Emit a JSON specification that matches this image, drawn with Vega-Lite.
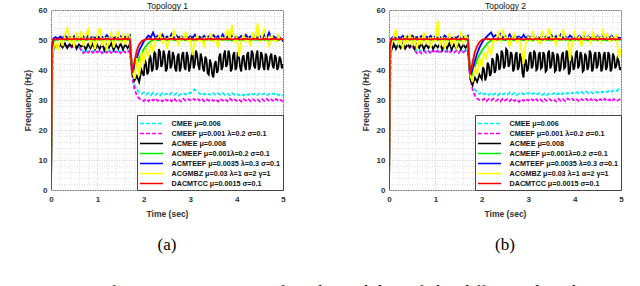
{
"$schema": "https://vega.github.io/schema/vega-lite/v6.json",
"padding": {"left": 0, "top": 0, "right": 0, "bottom": 0},
"background": "white",
"config": {
  "view": {"stroke": "#7a7a7a", "strokeWidth": 1},
  "font": "Liberation Sans",
  "axis": {"labelFont": "Liberation Sans", "labelFontSize": 8, "labelFontWeight": "bold", "labelColor": "#333", "titleFont": "Liberation Sans", "titleFontSize": 8.5, "titleFontWeight": "bold", "titleColor": "#333", "domain": false, "ticks": false},
  "legend": {"orient": "bottom-right", "offset": 0, "fillColor": "white", "strokeColor": "#444", "padding": 2.5, "symbolType": "M-2.3,0H2.3", "symbolSize": 100, "symbolStrokeWidth": 1.5, "symbolOffset": 6, "labelOffset": 14, "labelFont": "Liberation Sans", "labelFontSize": 7.2, "labelFontWeight": "bold", "labelColor": "#111", "rowPadding": 0, "labelLimit": 300}
},
"datasets": {"d": [
{"p":1,"t":0,"a":0,"b":0,"c":0,"d":0,"e":0,"f":0,"g":0},
{"p":1,"t":0.02,"a":30,"b":44,"c":45,"d":46,"e":47,"f":44,"g":48},
{"p":1,"t":0.05,"a":46.5,"b":47.5,"c":47,"d":49.5,"e":50.5,"f":47,"g":50.2},
{"p":1,"t":0.1,"a":47.8,"b":48,"c":48.5,"d":50,"e":51,"f":49,"g":50.3},
{"p":1,"t":0.15,"a":48,"b":47.6,"c":47.2,"d":50.2,"e":50.4,"f":46.5,"g":50.2},
{"p":1,"t":0.2,"a":47.5,"b":48.2,"c":48.8,"d":49.8,"e":51.2,"f":50.5,"g":50.4},
{"p":1,"t":0.25,"a":48.1,"b":47.8,"c":47.5,"d":50.1,"e":50.6,"f":48,"g":50.3},
{"p":1,"t":0.3,"a":47.7,"b":48.3,"c":48.9,"d":50.3,"e":51.5,"f":52,"g":50.2},
{"p":1,"t":0.35,"a":48.2,"b":47.7,"c":47.3,"d":49.9,"e":50.8,"f":54,"g":50.4},
{"p":1,"t":0.4,"a":47.6,"b":48.1,"c":48.6,"d":50.2,"e":51.1,"f":49,"g":50.3},
{"p":1,"t":0.45,"a":48,"b":47.5,"c":47.8,"d":50,"e":50.5,"f":51.5,"g":50.2},
{"p":1,"t":0.5,"a":47.8,"b":48.2,"c":48.9,"d":50.1,"e":51.3,"f":47.5,"g":50.3},
{"p":1,"t":0.55,"a":48.1,"b":47.9,"c":47.1,"d":49.8,"e":50.7,"f":52.5,"g":50.4},
{"p":1,"t":0.6,"a":47.5,"b":48,"c":48.5,"d":50.2,"e":51,"f":49.5,"g":50.2},
{"p":1,"t":0.65,"a":46.8,"b":46.5,"c":47.8,"d":50,"e":50.6,"f":53,"g":50.3},
{"p":1,"t":0.7,"a":46.2,"b":45.6,"c":48.4,"d":50.1,"e":51.2,"f":48,"g":50.3},
{"p":1,"t":0.75,"a":46.5,"b":46.3,"c":46.8,"d":49.9,"e":50.5,"f":51.5,"g":50.2},
{"p":1,"t":0.8,"a":46,"b":45.8,"c":48.6,"d":50.2,"e":51.4,"f":53.5,"g":50.4},
{"p":1,"t":0.85,"a":46.6,"b":46.6,"c":47.2,"d":50,"e":50.8,"f":48.5,"g":50.3},
{"p":1,"t":0.9,"a":46.1,"b":45.7,"c":48.8,"d":50.1,"e":51,"f":50.5,"g":50.2},
{"p":1,"t":0.95,"a":46.4,"b":46.4,"c":46.9,"d":49.8,"e":50.6,"f":47,"g":50.3},
{"p":1,"t":1.0,"a":46,"b":45.9,"c":48.3,"d":50.2,"e":51.3,"f":52,"g":50.4},
{"p":1,"t":1.05,"a":46.5,"b":46.5,"c":47,"d":50,"e":50.7,"f":54,"g":50.3},
{"p":1,"t":1.1,"a":45.9,"b":45.6,"c":48.7,"d":50.1,"e":51.1,"f":48,"g":50.2},
{"p":1,"t":1.15,"a":46.3,"b":46.2,"c":46.6,"d":49.9,"e":50.5,"f":51,"g":50.3},
{"p":1,"t":1.2,"a":46,"b":45.8,"c":48.5,"d":50.2,"e":51.6,"f":46.5,"g":50.4},
{"p":1,"t":1.25,"a":46.6,"b":46.5,"c":47.4,"d":50,"e":50.8,"f":50.5,"g":50.3},
{"p":1,"t":1.3,"a":46.2,"b":45.7,"c":48.9,"d":50.1,"e":51.2,"f":52.5,"g":50.2},
{"p":1,"t":1.35,"a":46.5,"b":46.4,"c":46.7,"d":49.9,"e":50.6,"f":47.5,"g":50.3},
{"p":1,"t":1.4,"a":45.9,"b":45.9,"c":48.4,"d":50.2,"e":51,"f":50,"g":50.4},
{"p":1,"t":1.45,"a":46.4,"b":46.3,"c":47.1,"d":50,"e":50.7,"f":53,"g":50.3},
{"p":1,"t":1.5,"a":46,"b":45.6,"c":48.8,"d":50.1,"e":51.3,"f":49,"g":50.2},
{"p":1,"t":1.55,"a":46.5,"b":46.5,"c":46.9,"d":49.8,"e":50.5,"f":51.5,"g":50.3},
{"p":1,"t":1.6,"a":46.1,"b":45.8,"c":48.5,"d":50.2,"e":51.1,"f":48.5,"g":50.4},
{"p":1,"t":1.65,"a":46.6,"b":46.4,"c":47.3,"d":50,"e":50.8,"f":52,"g":50.3},
{"p":1,"t":1.7,"a":46.2,"b":45.9,"c":48.6,"d":50.1,"e":51.5,"f":51,"g":50.3},
{"p":1,"t":1.75,"a":39,"b":38,"c":39,"d":39,"e":39.5,"f":40,"g":39},
{"p":1,"t":1.8,"a":35,"b":33.5,"c":36.5,"d":40,"e":41,"f":37,"g":43},
{"p":1,"t":1.85,"a":33.5,"b":31.5,"c":38,"d":42,"e":44,"f":44,"g":46.5},
{"p":1,"t":1.9,"a":32.5,"b":30.5,"c":36,"d":44,"e":46.5,"f":38,"g":48.5},
{"p":1,"t":1.95,"a":32,"b":30,"c":40,"d":45.5,"e":48,"f":46,"g":49.5},
{"p":1,"t":2.0,"a":32.5,"b":29.7,"c":38,"d":47,"e":49.5,"f":42,"g":50},
{"p":1,"t":2.05,"a":31.8,"b":30.3,"c":42,"d":48,"e":50.5,"f":47.5,"g":50.2},
{"p":1,"t":2.1,"a":32.3,"b":29.6,"c":39.5,"d":49,"e":51.5,"f":44,"g":50.4},
{"p":1,"t":2.15,"a":31.6,"b":30.4,"c":44,"d":49.6,"e":50.8,"f":49,"g":50.3},
{"p":1,"t":2.2,"a":32.4,"b":29.8,"c":40.5,"d":50,"e":52.5,"f":46,"g":50.2},
{"p":1,"t":2.25,"a":31.7,"b":30.5,"c":45.5,"d":50.2,"e":50.6,"f":50.5,"g":50.4},
{"p":1,"t":2.3,"a":32.2,"b":29.7,"c":41,"d":49.8,"e":51.4,"f":50.5,"g":50.3},
{"p":1,"t":2.35,"a":31.5,"b":30.2,"c":46,"d":50.3,"e":50.2,"f":52,"g":50.2},
{"p":1,"t":2.4,"a":32.3,"b":29.6,"c":42,"d":50,"e":51.8,"f":49,"g":50.4},
{"p":1,"t":2.45,"a":31.8,"b":30.4,"c":45,"d":50.1,"e":50.5,"f":50.5,"g":50.3},
{"p":1,"t":2.5,"a":32.1,"b":29.8,"c":40.5,"d":49.9,"e":51.2,"f":47,"g":50.2},
{"p":1,"t":2.55,"a":31.6,"b":30.3,"c":46.5,"d":50.2,"e":50.7,"f":51,"g":50.3},
{"p":1,"t":2.6,"a":32.4,"b":29.6,"c":41.5,"d":50,"e":52,"f":50,"g":50.4},
{"p":1,"t":2.65,"a":31.7,"b":30.5,"c":44.5,"d":50.1,"e":50.4,"f":53,"g":50.3},
{"p":1,"t":2.7,"a":32.2,"b":29.7,"c":39.5,"d":49.8,"e":51.5,"f":50.5,"g":50.2},
{"p":1,"t":2.75,"a":31.5,"b":30.2,"c":45.5,"d":50.3,"e":50.8,"f":48.5,"g":50.3},
{"p":1,"t":2.8,"a":32,"b":29.5,"c":41,"d":50,"e":51.2,"f":51,"g":50.4},
{"p":1,"t":2.85,"a":32.3,"b":30.4,"c":46,"d":50.1,"e":50.6,"f":50,"g":50.3},
{"p":1,"t":2.9,"a":31.8,"b":29.8,"c":40,"d":49.9,"e":51.6,"f":52.5,"g":50.2},
{"p":1,"t":2.95,"a":32.5,"b":30.3,"c":44.5,"d":50.2,"e":50.5,"f":49.5,"g":50.3},
{"p":1,"t":3.0,"a":32.2,"b":29.9,"c":41,"d":50,"e":51.3,"f":50.5,"g":50.4},
{"p":1,"t":3.05,"a":33,"b":30.5,"c":46,"d":50.1,"e":50.7,"f":45,"g":50.3},
{"p":1,"t":3.1,"a":33.5,"b":30,"c":42,"d":49.8,"e":51.8,"f":50,"g":50.2},
{"p":1,"t":3.15,"a":32.8,"b":30.6,"c":45,"d":50.2,"e":50.4,"f":51.5,"g":50.3},
{"p":1,"t":3.2,"a":32.2,"b":29.8,"c":40,"d":50,"e":51.1,"f":49.5,"g":50.4},
{"p":1,"t":3.25,"a":31.6,"b":30.4,"c":44,"d":50.1,"e":50.6,"f":50.5,"g":50.3},
{"p":1,"t":3.3,"a":32.1,"b":29.6,"c":39.5,"d":49.9,"e":51.4,"f":48,"g":50.2},
{"p":1,"t":3.35,"a":31.5,"b":30.2,"c":43.5,"d":50.2,"e":50.8,"f":51,"g":50.3},
{"p":1,"t":3.4,"a":32,"b":29.8,"c":38.5,"d":50,"e":51.2,"f":50,"g":50.4},
{"p":1,"t":3.45,"a":31.7,"b":30.3,"c":42,"d":50.1,"e":50.5,"f":52,"g":50.3},
{"p":1,"t":3.5,"a":32.3,"b":29.7,"c":37.5,"d":49.8,"e":51.6,"f":49.5,"g":50.2},
{"p":1,"t":3.55,"a":31.6,"b":30.2,"c":43,"d":50.2,"e":50.7,"f":50.5,"g":50.3},
{"p":1,"t":3.6,"a":32.2,"b":29.5,"c":40,"d":50,"e":51.3,"f":47.5,"g":50.4},
{"p":1,"t":3.65,"a":31.8,"b":30.4,"c":45.5,"d":50.1,"e":50.4,"f":51,"g":50.3},
{"p":1,"t":3.7,"a":32.4,"b":29.8,"c":41,"d":49.9,"e":51.9,"f":50,"g":50.2},
{"p":1,"t":3.75,"a":31.7,"b":30.3,"c":46.5,"d":50.2,"e":50.6,"f":50.5,"g":50.3},
{"p":1,"t":3.8,"a":32.1,"b":29.6,"c":42,"d":50,"e":51.2,"f":53.5,"g":50.4},
{"p":1,"t":3.85,"a":31.6,"b":30.5,"c":45,"d":50.1,"e":50.5,"f":50,"g":50.3},
{"p":1,"t":3.9,"a":32.3,"b":29.9,"c":40.5,"d":49.8,"e":51.5,"f":55,"g":50.2},
{"p":1,"t":3.95,"a":31.8,"b":30.4,"c":46,"d":50.2,"e":50.8,"f":49.5,"g":50.3},
{"p":1,"t":4.0,"a":32.2,"b":29.7,"c":41,"d":50,"e":51.1,"f":51,"g":50.4},
{"p":1,"t":4.05,"a":31.6,"b":30.2,"c":44.5,"d":50.1,"e":50.6,"f":44.5,"g":50.3},
{"p":1,"t":4.1,"a":32,"b":29.5,"c":39.5,"d":49.9,"e":51.4,"f":50,"g":50.2},
{"p":1,"t":4.15,"a":31.5,"b":30.3,"c":45,"d":50.2,"e":50.4,"f":51.5,"g":50.3},
{"p":1,"t":4.2,"a":32.2,"b":29.8,"c":40,"d":50,"e":51.7,"f":49.5,"g":50.4},
{"p":1,"t":4.25,"a":31.7,"b":30.4,"c":46,"d":50.1,"e":50.7,"f":50.5,"g":50.3},
{"p":1,"t":4.3,"a":32.3,"b":29.6,"c":41.5,"d":49.8,"e":51.2,"f":48,"g":50.2},
{"p":1,"t":4.35,"a":31.8,"b":30.3,"c":45.5,"d":50.2,"e":50.5,"f":52.5,"g":50.3},
{"p":1,"t":4.4,"a":32.1,"b":29.7,"c":40.5,"d":50,"e":51.5,"f":50,"g":50.4},
{"p":1,"t":4.45,"a":31.6,"b":30.2,"c":46.5,"d":50.1,"e":50.6,"f":55.5,"g":50.3},
{"p":1,"t":4.5,"a":32.4,"b":29.5,"c":41,"d":49.9,"e":51.3,"f":49.5,"g":50.2},
{"p":1,"t":4.55,"a":31.9,"b":30.3,"c":45,"d":50.2,"e":50.4,"f":51,"g":50.3},
{"p":1,"t":4.6,"a":32.2,"b":29.7,"c":40,"d":50,"e":51.8,"f":54,"g":50.4},
{"p":1,"t":4.65,"a":31.6,"b":30.4,"c":44.5,"d":50.1,"e":50.6,"f":50,"g":50.3},
{"p":1,"t":4.7,"a":32,"b":29.6,"c":41.5,"d":49.8,"e":52.5,"f":48,"g":50.2},
{"p":1,"t":4.75,"a":31.7,"b":30.2,"c":45.5,"d":50.2,"e":50.7,"f":51.5,"g":50.3},
{"p":1,"t":4.8,"a":32.2,"b":29.5,"c":40.5,"d":50,"e":51.2,"f":50,"g":50.4},
{"p":1,"t":4.85,"a":31.5,"b":30.3,"c":44,"d":50.1,"e":50.5,"f":49.5,"g":50.3},
{"p":1,"t":4.9,"a":31.9,"b":29.6,"c":41,"d":49.9,"e":51.4,"f":51.5,"g":50.2},
{"p":1,"t":4.95,"a":31.4,"b":30,"c":43.5,"d":50.2,"e":50.6,"f":50,"g":50.3},
{"p":1,"t":5.0,"a":31.6,"b":29.5,"c":42,"d":50,"e":49.5,"f":50.5,"g":50.4},
{"p":1,"t":2.025,"c":43.5},{"p":1,"t":2.075,"c":38.5},{"p":1,"t":2.125,"c":45},{"p":1,"t":2.175,"c":39.5},{"p":1,"t":2.225,"c":46},{"p":1,"t":2.275,"c":40},
{"p":1,"t":2.325,"c":47},{"p":1,"t":2.375,"c":41},{"p":1,"t":2.425,"c":46.5},{"p":1,"t":2.475,"c":39.5},{"p":1,"t":2.525,"c":45},{"p":1,"t":2.575,"c":40.5},
{"p":1,"t":2.625,"c":46},{"p":1,"t":2.675,"c":40.5},{"p":1,"t":2.725,"c":44.5},{"p":1,"t":2.775,"c":39.5},{"p":1,"t":2.825,"c":45},{"p":1,"t":2.875,"c":41},
{"p":1,"t":2.925,"c":46},{"p":1,"t":2.975,"c":39.5},{"p":1,"t":3.025,"c":44.5},{"p":1,"t":3.075,"c":40.5},{"p":1,"t":3.125,"c":46.5},{"p":1,"t":3.175,"c":41.5},
{"p":1,"t":3.225,"c":45.5},{"p":1,"t":3.275,"c":40.5},{"p":1,"t":3.325,"c":44.5},{"p":1,"t":3.375,"c":39},{"p":1,"t":3.425,"c":43.5},{"p":1,"t":3.475,"c":38.5},
{"p":1,"t":3.525,"c":42},{"p":1,"t":3.575,"c":39},{"p":1,"t":3.625,"c":44.5},{"p":1,"t":3.675,"c":40},{"p":1,"t":3.725,"c":45},{"p":1,"t":3.775,"c":41},
{"p":1,"t":3.825,"c":46.5},{"p":1,"t":3.875,"c":39.5},{"p":1,"t":3.925,"c":45},{"p":1,"t":3.975,"c":40},{"p":1,"t":4.025,"c":46},{"p":1,"t":4.075,"c":41},
{"p":1,"t":4.125,"c":44},{"p":1,"t":4.175,"c":41.5},{"p":1,"t":4.225,"c":45},{"p":1,"t":4.275,"c":40},{"p":1,"t":4.325,"c":46.5},{"p":1,"t":4.375,"c":41.5},
{"p":1,"t":4.425,"c":45},{"p":1,"t":4.475,"c":40},{"p":1,"t":4.525,"c":46},{"p":1,"t":4.575,"c":41},{"p":1,"t":4.625,"c":45.5},{"p":1,"t":4.675,"c":40},
{"p":1,"t":4.725,"c":44.5},{"p":1,"t":4.775,"c":41.5},{"p":1,"t":4.825,"c":45},{"p":1,"t":4.875,"c":40},{"p":1,"t":4.925,"c":44.5},{"p":1,"t":4.975,"c":40.5},
{"p":2,"t":0,"a":0,"b":0,"c":0,"d":0,"e":0,"f":0,"g":0},
{"p":2,"t":0.02,"a":30,"b":44,"c":45,"d":46,"e":47,"f":44,"g":48},
{"p":2,"t":0.05,"a":47,"b":47.5,"c":46.5,"d":49.5,"e":50.5,"f":48,"g":50.2},
{"p":2,"t":0.1,"a":47.5,"b":47.8,"c":48.8,"d":50,"e":51.2,"f":51,"g":50.3},
{"p":2,"t":0.15,"a":48.2,"b":47.5,"c":47,"d":50.2,"e":50.5,"f":53.5,"g":50.2},
{"p":2,"t":0.2,"a":47.6,"b":48.3,"c":48.6,"d":49.8,"e":51,"f":48.5,"g":50.4},
{"p":2,"t":0.25,"a":48,"b":47.6,"c":47.3,"d":50.1,"e":50.7,"f":50,"g":50.3},
{"p":2,"t":0.3,"a":47.5,"b":48.1,"c":48.9,"d":50.3,"e":51.4,"f":47,"g":50.2},
{"p":2,"t":0.35,"a":48.1,"b":47.7,"c":47.1,"d":49.9,"e":50.6,"f":51.5,"g":50.4},
{"p":2,"t":0.4,"a":47.7,"b":48.2,"c":48.5,"d":50.2,"e":51.2,"f":49,"g":50.3},
{"p":2,"t":0.45,"a":48,"b":47.4,"c":47.6,"d":50,"e":50.5,"f":52,"g":50.2},
{"p":2,"t":0.5,"a":47.6,"b":48,"c":48.8,"d":50.1,"e":51.5,"f":48,"g":50.3},
{"p":2,"t":0.55,"a":47,"b":46.8,"c":47,"d":49.8,"e":50.7,"f":50.5,"g":50.4},
{"p":2,"t":0.6,"a":46.4,"b":45.6,"c":48.6,"d":50.2,"e":51,"f":47,"g":50.2},
{"p":2,"t":0.65,"a":46.8,"b":46.2,"c":47.4,"d":50,"e":50.6,"f":51,"g":50.3},
{"p":2,"t":0.7,"a":46.2,"b":45.5,"c":48.9,"d":50.1,"e":51.3,"f":48.5,"g":50.3},
{"p":2,"t":0.75,"a":46.6,"b":46.4,"c":46.9,"d":49.9,"e":50.5,"f":52.5,"g":50.2},
{"p":2,"t":0.8,"a":46.1,"b":45.7,"c":48.5,"d":50.2,"e":51.1,"f":49,"g":50.4},
{"p":2,"t":0.85,"a":46.5,"b":46.3,"c":47.3,"d":50,"e":50.8,"f":50.5,"g":50.3},
{"p":2,"t":0.9,"a":46,"b":45.5,"c":48.7,"d":50.1,"e":51.4,"f":47.5,"g":50.2},
{"p":2,"t":0.95,"a":46.4,"b":46.5,"c":47,"d":49.8,"e":50.6,"f":51,"g":50.3},
{"p":2,"t":1.0,"a":46.1,"b":45.8,"c":48.4,"d":50.2,"e":51.2,"f":49.5,"g":50.4},
{"p":2,"t":1.05,"a":46.6,"b":46.4,"c":47.5,"d":50,"e":50.7,"f":56.5,"g":50.3},
{"p":2,"t":1.1,"a":46,"b":45.6,"c":48.8,"d":50.1,"e":51,"f":48,"g":50.2},
{"p":2,"t":1.15,"a":46.5,"b":46.5,"c":46.8,"d":49.9,"e":50.5,"f":51,"g":50.3},
{"p":2,"t":1.2,"a":46.2,"b":45.9,"c":48.3,"d":50.2,"e":51.5,"f":47,"g":50.4},
{"p":2,"t":1.25,"a":46.7,"b":46.3,"c":47.2,"d":50,"e":50.8,"f":50.5,"g":50.3},
{"p":2,"t":1.3,"a":46.1,"b":45.6,"c":48.9,"d":50.1,"e":51.2,"f":52,"g":50.2},
{"p":2,"t":1.35,"a":46.6,"b":46.5,"c":46.8,"d":49.9,"e":50.6,"f":48.5,"g":50.3},
{"p":2,"t":1.4,"a":46,"b":45.8,"c":48.5,"d":50.2,"e":51,"f":51,"g":50.4},
{"p":2,"t":1.45,"a":46.5,"b":46.4,"c":47.2,"d":50,"e":50.7,"f":47.5,"g":50.3},
{"p":2,"t":1.5,"a":46.1,"b":45.7,"c":48.7,"d":50.1,"e":51.3,"f":50,"g":50.2},
{"p":2,"t":1.55,"a":46.6,"b":46.6,"c":47,"d":49.8,"e":50.5,"f":52.5,"g":50.3},
{"p":2,"t":1.6,"a":46.2,"b":45.9,"c":48.4,"d":50.2,"e":51.1,"f":49,"g":50.4},
{"p":2,"t":1.65,"a":46.7,"b":46.5,"c":47.4,"d":50,"e":50.8,"f":51.5,"g":50.3},
{"p":2,"t":1.7,"a":46.3,"b":46,"c":48.6,"d":50.1,"e":51.4,"f":50.5,"g":50.3},
{"p":2,"t":1.75,"a":38.5,"b":37.5,"c":37,"d":37.5,"e":38,"f":38.5,"g":38.5},
{"p":2,"t":1.8,"a":35,"b":33.5,"c":35,"d":38.5,"e":40,"f":36,"g":42.5},
{"p":2,"t":1.85,"a":33.5,"b":31.5,"c":37.5,"d":41,"e":43,"f":41,"g":46},
{"p":2,"t":1.9,"a":32.5,"b":30.5,"c":36,"d":43.5,"e":45.5,"f":38.5,"g":48},
{"p":2,"t":1.95,"a":32,"b":30,"c":38.5,"d":45,"e":47.5,"f":44,"g":49.3},
{"p":2,"t":2.0,"a":32.6,"b":29.8,"c":37,"d":46.5,"e":49,"f":41,"g":50},
{"p":2,"t":2.05,"a":31.9,"b":30.4,"c":40,"d":47.5,"e":50.2,"f":46,"g":50.2},
{"p":2,"t":2.1,"a":32.4,"b":29.6,"c":38,"d":48.5,"e":51,"f":43.5,"g":50.4},
{"p":2,"t":2.15,"a":31.7,"b":30.3,"c":41.5,"d":49.3,"e":51.8,"f":48,"g":50.3},
{"p":2,"t":2.2,"a":32.3,"b":29.8,"c":39,"d":49.8,"e":52.5,"f":45,"g":50.2},
{"p":2,"t":2.25,"a":31.8,"b":30.5,"c":43,"d":50.1,"e":51,"f":50,"g":50.4},
{"p":2,"t":2.3,"a":32.2,"b":29.7,"c":40,"d":49.8,"e":51.6,"f":49.5,"g":50.3},
{"p":2,"t":2.35,"a":31.6,"b":30.2,"c":44.5,"d":50.3,"e":50.5,"f":52.5,"g":50.2},
{"p":2,"t":2.4,"a":32.4,"b":29.5,"c":41,"d":50,"e":52,"f":50,"g":50.4},
{"p":2,"t":2.45,"a":31.9,"b":30.4,"c":45.5,"d":50.1,"e":50.7,"f":53.5,"g":50.3},
{"p":2,"t":2.5,"a":32.2,"b":29.8,"c":41.5,"d":49.9,"e":51.3,"f":50.5,"g":50.2},
{"p":2,"t":2.55,"a":31.7,"b":30.3,"c":46.5,"d":50.2,"e":50.5,"f":51,"g":50.3},
{"p":2,"t":2.6,"a":32.5,"b":29.6,"c":42,"d":50,"e":51.9,"f":48,"g":50.4},
{"p":2,"t":2.65,"a":31.8,"b":30.5,"c":45,"d":50.1,"e":50.6,"f":50.5,"g":50.3},
{"p":2,"t":2.7,"a":32.3,"b":29.7,"c":40.5,"d":49.8,"e":51.4,"f":52,"g":50.2},
{"p":2,"t":2.75,"a":31.6,"b":30.2,"c":46,"d":50.3,"e":50.8,"f":49.5,"g":50.3},
{"p":2,"t":2.8,"a":32.1,"b":29.4,"c":41,"d":50,"e":51.2,"f":50.5,"g":50.4},
{"p":2,"t":2.85,"a":32.4,"b":30.3,"c":44,"d":50.1,"e":50.5,"f":47,"g":50.3},
{"p":2,"t":2.9,"a":31.9,"b":29.7,"c":37.5,"d":49.9,"e":51.7,"f":42,"g":50.2},
{"p":2,"t":2.95,"a":32.5,"b":30.4,"c":43.5,"d":50.2,"e":50.6,"f":49.5,"g":50.3},
{"p":2,"t":3.0,"a":32.1,"b":29.8,"c":40.5,"d":50,"e":51.3,"f":51,"g":50.4},
{"p":2,"t":3.05,"a":32.6,"b":30.5,"c":46,"d":50.1,"e":50.7,"f":50,"g":50.3},
{"p":2,"t":3.1,"a":32,"b":29.9,"c":41.5,"d":49.8,"e":51.9,"f":52.5,"g":50.2},
{"p":2,"t":3.15,"a":32.5,"b":30.6,"c":45.5,"d":50.2,"e":50.4,"f":50,"g":50.3},
{"p":2,"t":3.2,"a":31.9,"b":29.8,"c":40.5,"d":50,"e":51.1,"f":51,"g":50.4},
{"p":2,"t":3.25,"a":32.3,"b":30.4,"c":46,"d":50.1,"e":50.6,"f":48.5,"g":50.3},
{"p":2,"t":3.3,"a":31.7,"b":29.6,"c":41,"d":49.9,"e":51.5,"f":53,"g":50.2},
{"p":2,"t":3.35,"a":32.2,"b":30.3,"c":45,"d":50.2,"e":50.8,"f":50,"g":50.3},
{"p":2,"t":3.4,"a":31.6,"b":29.7,"c":40,"d":50,"e":51.2,"f":51,"g":50.4},
{"p":2,"t":3.45,"a":32.1,"b":30.4,"c":46.5,"d":50.1,"e":50.5,"f":54,"g":50.3},
{"p":2,"t":3.5,"a":31.8,"b":29.8,"c":41.5,"d":49.8,"e":51.6,"f":50,"g":50.2},
{"p":2,"t":3.55,"a":32.3,"b":30.2,"c":45,"d":50.2,"e":50.7,"f":51,"g":50.3},
{"p":2,"t":3.6,"a":31.7,"b":29.5,"c":40,"d":50,"e":51.3,"f":48.5,"g":50.4},
{"p":2,"t":3.65,"a":32.2,"b":30.4,"c":44.5,"d":50.1,"e":50.4,"f":51.5,"g":50.3},
{"p":2,"t":3.7,"a":31.6,"b":29.7,"c":40.5,"d":49.9,"e":51.8,"f":50,"g":50.2},
{"p":2,"t":3.75,"a":32.3,"b":30.3,"c":46,"d":50.2,"e":50.6,"f":53.5,"g":50.3},
{"p":2,"t":3.8,"a":31.8,"b":29.6,"c":41,"d":50,"e":51.2,"f":50.5,"g":50.4},
{"p":2,"t":3.85,"a":32.4,"b":30.5,"c":45.5,"d":50.1,"e":50.5,"f":50.5,"g":50.3},
{"p":2,"t":3.9,"a":31.9,"b":29.9,"c":39.5,"d":49.8,"e":51.5,"f":43,"g":50.2},
{"p":2,"t":3.95,"a":32.5,"b":30.4,"c":44,"d":50.2,"e":50.8,"f":49,"g":50.3},
{"p":2,"t":4.0,"a":32,"b":29.7,"c":41,"d":50,"e":51.1,"f":52.5,"g":50.4},
{"p":2,"t":4.05,"a":32.6,"b":30.2,"c":46.5,"d":50.1,"e":50.6,"f":50,"g":50.3},
{"p":2,"t":4.1,"a":32.1,"b":29.5,"c":41.5,"d":49.9,"e":51.4,"f":51,"g":50.2},
{"p":2,"t":4.15,"a":32.7,"b":30.3,"c":45,"d":50.2,"e":50.4,"f":48,"g":50.3},
{"p":2,"t":4.2,"a":32.2,"b":29.8,"c":40,"d":50,"e":51.7,"f":53,"g":50.4},
{"p":2,"t":4.25,"a":32.8,"b":30.4,"c":44.5,"d":50.1,"e":50.7,"f":50.5,"g":50.3},
{"p":2,"t":4.3,"a":32.3,"b":29.6,"c":41,"d":49.8,"e":51.2,"f":51,"g":50.2},
{"p":2,"t":4.35,"a":32.7,"b":30.3,"c":45.5,"d":50.2,"e":50.5,"f":49,"g":50.3},
{"p":2,"t":4.4,"a":32.2,"b":29.7,"c":40.5,"d":50,"e":51.5,"f":52.5,"g":50.4},
{"p":2,"t":4.45,"a":32.8,"b":30.2,"c":46,"d":50.1,"e":50.6,"f":50,"g":50.3},
{"p":2,"t":4.5,"a":32.4,"b":29.5,"c":41.5,"d":49.9,"e":51.3,"f":51,"g":50.2},
{"p":2,"t":4.55,"a":32.9,"b":30.3,"c":45,"d":50.2,"e":50.4,"f":49.5,"g":50.3},
{"p":2,"t":4.6,"a":32.5,"b":29.7,"c":40.5,"d":50,"e":51.8,"f":53,"g":50.4},
{"p":2,"t":4.65,"a":33.1,"b":30.4,"c":46,"d":50.1,"e":50.6,"f":50.5,"g":50.3},
{"p":2,"t":4.7,"a":32.6,"b":29.6,"c":41,"d":49.8,"e":51.2,"f":52,"g":50.2},
{"p":2,"t":4.75,"a":33.2,"b":30.2,"c":45,"d":50.2,"e":50.7,"f":49.5,"g":50.3},
{"p":2,"t":4.8,"a":32.8,"b":29.5,"c":40.5,"d":50,"e":51.4,"f":51,"g":50.4},
{"p":2,"t":4.85,"a":33.4,"b":30.3,"c":44.5,"d":50.1,"e":50.5,"f":50,"g":50.3},
{"p":2,"t":4.9,"a":33,"b":29.6,"c":41.5,"d":49.9,"e":51.2,"f":52,"g":50.2},
{"p":2,"t":4.95,"a":33.6,"b":30.1,"c":43,"d":50.2,"e":50.6,"f":44,"g":50.3},
{"p":2,"t":5.0,"a":33.3,"b":30.4,"c":41,"d":50,"e":50.8,"f":47,"g":50.4},
{"p":2,"t":2.025,"c":41},{"p":2,"t":2.075,"c":36.5},{"p":2,"t":2.125,"c":42.5},{"p":2,"t":2.175,"c":38},{"p":2,"t":2.225,"c":44},{"p":2,"t":2.275,"c":39},
{"p":2,"t":2.325,"c":45.5},{"p":2,"t":2.375,"c":40},{"p":2,"t":2.425,"c":46.5},{"p":2,"t":2.475,"c":40.5},{"p":2,"t":2.525,"c":47},{"p":2,"t":2.575,"c":41},
{"p":2,"t":2.625,"c":46},{"p":2,"t":2.675,"c":39.5},{"p":2,"t":2.725,"c":45},{"p":2,"t":2.775,"c":40},{"p":2,"t":2.825,"c":45.5},{"p":2,"t":2.875,"c":39},
{"p":2,"t":2.925,"c":42.5},{"p":2,"t":2.975,"c":39.5},{"p":2,"t":3.025,"c":45},{"p":2,"t":3.075,"c":40.5},{"p":2,"t":3.125,"c":46.5},{"p":2,"t":3.175,"c":40},
{"p":2,"t":3.225,"c":45},{"p":2,"t":3.275,"c":40.5},{"p":2,"t":3.325,"c":46},{"p":2,"t":3.375,"c":39.5},{"p":2,"t":3.425,"c":45.5},{"p":2,"t":3.475,"c":40.5},
{"p":2,"t":3.525,"c":46},{"p":2,"t":3.575,"c":39.5},{"p":2,"t":3.625,"c":45.5},{"p":2,"t":3.675,"c":39.5},{"p":2,"t":3.725,"c":45},{"p":2,"t":3.775,"c":40.5},
{"p":2,"t":3.825,"c":46.5},{"p":2,"t":3.875,"c":38.5},{"p":2,"t":3.925,"c":45},{"p":2,"t":3.975,"c":40},{"p":2,"t":4.025,"c":45.5},{"p":2,"t":4.075,"c":40.5},
{"p":2,"t":4.125,"c":46},{"p":2,"t":4.175,"c":39.5},{"p":2,"t":4.225,"c":45.5},{"p":2,"t":4.275,"c":40},{"p":2,"t":4.325,"c":46.5},{"p":2,"t":4.375,"c":39.5},
{"p":2,"t":4.425,"c":45},{"p":2,"t":4.475,"c":40.5},{"p":2,"t":4.525,"c":46},{"p":2,"t":4.575,"c":39.5},{"p":2,"t":4.625,"c":45},{"p":2,"t":4.675,"c":40},
{"p":2,"t":4.725,"c":46},{"p":2,"t":4.775,"c":39.5},{"p":2,"t":4.825,"c":45.5},{"p":2,"t":4.875,"c":40.5},{"p":2,"t":4.925,"c":44},{"p":2,"t":4.975,"c":40}
]},
"title": {"text": "Fig.\u00a04.\u00a0\u00a0\u00a0\u00a0\u00a0\u00a0\u00a0\u00a0\u00a0\u00a0Performance\u00a0\u00a0comparison\u00a0\u00a0of\u00a0\u00a0tracking\u00a0\u00a0ability\u00a0\u00a0of\u00a0\u00a0the\u00a0\u00a0different\u00a0\u00a0algorithms", "orient": "bottom", "anchor": "start", "font": "Liberation Serif", "fontSize": 17, "fontWeight": "normal", "color": "#000", "offset": 30.5, "dx": -22},
"spacing": 74,
"resolve": {"scale": {"color": "independent", "strokeDash": "independent"}},
"hconcat": [
{
  "width": 232, "height": 180,
  "data": {"name": "d"},
  "transform": [{"filter": "datum.p == 1"}, {"fold": ["a","b","c","d","e","f","g"], "as": ["k","v"]}, {"filter": "isValid(datum.v)"}],
  "title": {"text": "(a)", "orient": "bottom", "font": "Liberation Serif", "fontSize": 17, "fontWeight": "normal", "color": "#000", "offset": 19},
  "resolve": {"axis": {"x": "independent"}},
  "layer": [
    {
      "mark": {"type": "line", "strokeWidth": 1.8, "clip": true},
      "encoding": {
        "x": {"field": "t", "type": "quantitative", "scale": {"domain": [0, 5], "nice": false}, "axis": {"title": "Time (sec)", "values": [0,0.2,0.4,0.6,0.8,1,1.2,1.4,1.6,1.8,2,2.2,2.4,2.6,2.8,3,3.2,3.4,3.6,3.8,4,4.2,4.4,4.6,4.8,5], "labelExpr": "datum.value % 1 == 0 ? format(datum.value, 'd') : ''", "labelOverlap": false, "labelFlush": false, "labelPadding": 5.5, "titlePadding": 6, "grid": true, "gridDash": [1, 1.5], "gridColor": {"condition": {"test": "datum.value % 1 == 0", "value": "#cfcfcf"}, "value": "#e2e2e2"}}},
        "y": {"field": "v", "type": "quantitative", "scale": {"domain": [0, 60], "nice": false}, "axis": {"title": "Frequency (Hz)", "values": [0,2,4,6,8,10,12,14,16,18,20,22,24,26,28,30,32,34,36,38,40,42,44,46,48,50,52,54,56,58,60], "labelExpr": "datum.value % 10 == 0 ? datum.label : ''", "labelOverlap": false, "labelPadding": 4, "titlePadding": 6, "grid": true, "gridDash": [1, 1.5], "gridColor": {"condition": {"test": "datum.value % 10 == 0", "value": "#cfcfcf"}, "value": "#e2e2e2"}}},
        "color": {"field": "k", "type": "nominal", "scale": {"domain": ["a","b","c","d","e","f","g"], "range": ["#00f0f0","#ff00ff","#000000","#00ee00","#0000ff","#ffff00","#ff0000"]}, "legend": {"title": null, "labelExpr": "datum.value == 'a' ? 'CMEE μ=0.006' : datum.value == 'b' ? 'CMEEF μ=0.001  λ=0.2 σ=0.1' : datum.value == 'c' ? 'ACMEE μ=0.008' : datum.value == 'd' ? 'ACMEEF μ=0.001λ=0.2 σ=0.1' : datum.value == 'e' ? 'ACMTEEF μ=0.0035 λ=0.3 σ=0.1' : datum.value == 'f' ? 'ACGMBZ μ=0.03 λ=1 α=2 γ=1' : 'DACMTCC μ=0.0015 σ=0.1'"}},
        "strokeDash": {"field": "k", "type": "nominal", "scale": {"domain": ["a","b","c","d","e","f","g"], "range": [[4,2],[4,2],[1,0],[1,0],[1,0],[1,0],[1,0]]}, "legend": null}
      }
    },
    {
      "transform": [{"filter": "datum.k == 'a' && datum.t == 0"}],
      "mark": {"type": "point", "opacity": 0},
      "encoding": {
        "x": {"field": "t", "type": "quantitative", "axis": {"orient": "top", "title": "Topology 1", "labels": false, "grid": false, "titleFontWeight": "normal", "titleFontSize": 8.5, "titleColor": "#111", "titlePadding": 0}}
      }
    }
  ]
},
{
  "width": 232, "height": 180,
  "data": {"name": "d"},
  "transform": [{"filter": "datum.p == 2"}, {"fold": ["a","b","c","d","e","f","g"], "as": ["k","v"]}, {"filter": "isValid(datum.v)"}],
  "title": {"text": "(b)", "orient": "bottom", "font": "Liberation Serif", "fontSize": 17, "fontWeight": "normal", "color": "#000", "offset": 19},
  "resolve": {"axis": {"x": "independent"}},
  "layer": [
    {
      "mark": {"type": "line", "strokeWidth": 1.8, "clip": true},
      "encoding": {
        "x": {"field": "t", "type": "quantitative", "scale": {"domain": [0, 5], "nice": false}, "axis": {"title": "Time (sec)", "values": [0,0.2,0.4,0.6,0.8,1,1.2,1.4,1.6,1.8,2,2.2,2.4,2.6,2.8,3,3.2,3.4,3.6,3.8,4,4.2,4.4,4.6,4.8,5], "labelExpr": "datum.value % 1 == 0 ? format(datum.value, 'd') : ''", "labelOverlap": false, "labelFlush": false, "labelPadding": 5.5, "titlePadding": 6, "grid": true, "gridDash": [1, 1.5], "gridColor": {"condition": {"test": "datum.value % 1 == 0", "value": "#cfcfcf"}, "value": "#e2e2e2"}}},
        "y": {"field": "v", "type": "quantitative", "scale": {"domain": [0, 60], "nice": false}, "axis": {"title": "Frequency (Hz)", "values": [0,2,4,6,8,10,12,14,16,18,20,22,24,26,28,30,32,34,36,38,40,42,44,46,48,50,52,54,56,58,60], "labelExpr": "datum.value % 10 == 0 ? datum.label : ''", "labelOverlap": false, "labelPadding": 4, "titlePadding": 6, "grid": true, "gridDash": [1, 1.5], "gridColor": {"condition": {"test": "datum.value % 10 == 0", "value": "#cfcfcf"}, "value": "#e2e2e2"}}},
        "color": {"field": "k", "type": "nominal", "scale": {"domain": ["a","b","c","d","e","f","g"], "range": ["#00f0f0","#ff00ff","#000000","#00ee00","#0000ff","#ffff00","#ff0000"]}, "legend": {"title": null, "labelExpr": "datum.value == 'a' ? 'CMEE μ=0.006' : datum.value == 'b' ? 'CMEEF μ=0.001  λ=0.2 σ=0.1' : datum.value == 'c' ? 'ACMEE μ=0.008' : datum.value == 'd' ? 'ACMEEF μ=0.001λ=0.2 σ=0.1' : datum.value == 'e' ? 'ACMTEEF μ=0.0035 λ=0.3 σ=0.1' : datum.value == 'f' ? 'ACGMBZ μ=0.03 λ=1 α=2 γ=1' : 'DACMTCC μ=0.0015 σ=0.1'"}},
        "strokeDash": {"field": "k", "type": "nominal", "scale": {"domain": ["a","b","c","d","e","f","g"], "range": [[4,2],[4,2],[1,0],[1,0],[1,0],[1,0],[1,0]]}, "legend": null}
      }
    },
    {
      "transform": [{"filter": "datum.k == 'a' && datum.t == 0"}],
      "mark": {"type": "point", "opacity": 0},
      "encoding": {
        "x": {"field": "t", "type": "quantitative", "axis": {"orient": "top", "title": "Topology 2", "labels": false, "grid": false, "titleFontWeight": "normal", "titleFontSize": 8.5, "titleColor": "#111", "titlePadding": 0}}
      }
    }
  ]
}
]
}
